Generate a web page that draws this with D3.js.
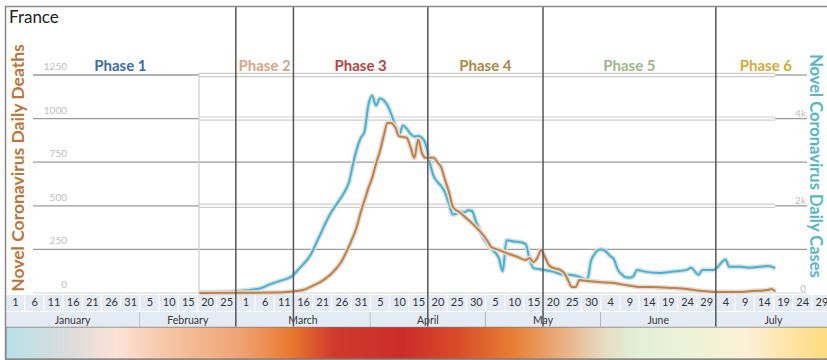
<!DOCTYPE html>
<html><head><meta charset="utf-8">
<script src="https://cdn.jsdelivr.net/npm/d3@7"></script>
<style>body{margin:0;background:#fff}svg{display:block}</style>
</head><body><svg id="c" width="827" height="360"></svg>
<script>
// ---------- data ----------
const chartTitle = "France";
const leftTitle = "Novel Coronavirus Daily Deaths";
const rightTitle = "Novel Coronavirus Daily Cases";
const deathTicks = [0, 250, 500, 750, 1000, 1250];
const caseTicks = [0, 2000, 4000];
const caseTickLabels = ["0", "2k", "4k"];
const months = ["January", "February", "March", "April", "May", "June", "July"];
const dayTicks = ["01-01","01-06","01-11","01-16","01-21","01-26","01-31",
  "02-05","02-10","02-15","02-20","02-25",
  "03-01","03-06","03-11","03-16","03-21","03-26","03-31",
  "04-05","04-10","04-15","04-20","04-25","04-30",
  "05-05","05-10","05-15","05-20","05-25","05-30",
  "06-04","06-09","06-14","06-19","06-24","06-29",
  "07-04","07-09","07-14","07-19","07-24","07-29"];
const phaseNames = ["Phase 1", "Phase 2", "Phase 3", "Phase 4", "Phase 5", "Phase 6"];
const phaseColors = ["#3a6ea5", "#d9a587", "#b9433f", "#a88a45", "#9db58d", "#d4a93c"];
const phaseStarts = ["02-28", "03-14", "04-18", "05-18", "07-02"];

const caseDates = ["02-18","02-22","02-26","02-29","03-03","03-05","03-07","03-10","03-13","03-15",
  "03-18","03-20","03-23","03-26","03-27","03-28","03-29","03-30","03-31","04-01",
  "04-02","04-03","04-04","04-05","04-06","04-07","04-08","04-09","04-10","04-11",
  "04-12","04-13","04-14","04-15","04-16","04-17","04-18","04-19","04-20","04-21",
  "04-22","04-23","04-24","04-25","04-26","04-27","04-28","04-29","04-30","05-01",
  "05-02","05-03","05-04","05-05","05-06","05-07","05-08","05-10","05-12","05-13",
  "05-14","05-15","05-17","05-20","05-23","05-25","05-27","05-29","05-30","05-31",
  "06-01","06-02","06-03","06-04","06-05","06-06","06-07","06-08","06-09","06-10",
  "06-11","06-13","06-17","06-20","06-24","06-25","06-27","06-28","07-01","07-02",
  "07-04","07-05","07-08","07-10","07-13","07-15","07-17"];
const caseValues = [10,15,30,50,80,110,185,277,380,560,
  880,1250,1800,2200,2350,2550,2950,3300,3550,3700,
  4300,4530,4300,4460,4420,4300,4100,3850,3620,3840,
  3770,3650,3590,3600,3560,3400,3000,2680,2550,2450,
  2300,2050,1800,1820,1870,1850,1900,1880,1650,1450,
  1250,1130,1020,930,800,500,1210,1180,1160,1120,
  780,570,540,490,420,415,370,300,740,900,
  990,1000,940,850,770,530,430,360,350,380,
  530,490,460,490,530,580,420,530,530,600,
  770,600,600,580,600,620,570];

const deathDates = ["02-18","03-01","03-11","03-13","03-16","03-19","03-21","03-23","03-26","03-28",
  "03-30","03-31","04-01","04-02","04-03","04-04","04-05","04-06","04-07","04-08",
  "04-09","04-10","04-11","04-12","04-13","04-14","04-15","04-16","04-17","04-19",
  "04-20","04-21","04-22","04-23","04-24","04-26","04-28","04-29","05-01","05-03",
  "05-04","05-06","05-08","05-11","05-13","05-14","05-15","05-16","05-17","05-18",
  "05-19","05-20","05-22","05-23","05-24","05-25","05-26","05-27","05-28","06-01",
  "06-05","06-08","06-12","06-15","06-20","06-24","06-28","07-02","07-07","07-11",
  "07-15","07-16","07-17"];
const deathValues = [0,1,4,8,17,46,70,103,180,270,
  380,460,530,600,660,740,810,900,975,975,
  950,900,895,890,837,775,880,800,775,775,
  750,720,648,580,495,459,420,400,355,300,
  264,247,229,206,189,201,178,201,247,206,
  161,145,132,115,75,34,34,75,72,63,
  57,46,34,34,29,23,11,6,6,11,
  17,23,8];

const gradientStops = [[0,"#b8e0e8"],[0.077,"#dcdcdc"],[0.134,"#fce3d8"],[0.19,"#f6c8a8"],
  [0.287,"#f0a070"],[0.344,"#e8782f"],[0.395,"#cf3a2c"],[0.478,"#cc2c2a"],[0.542,"#d84a28"],
  [0.612,"#e88035"],[0.676,"#e9b48a"],[0.72,"#e6dcc0"],[0.759,"#e3efd8"],[0.83,"#eef3d8"],
  [0.893,"#fdf0d6"],[0.957,"#fde29a"],[1,"#fdd878"]];

// ---------- setup ----------
const parse = s => d3.utcParse("%Y-%m-%d")("2020-" + s);
const svg = d3.select("#c");
const W = 827, H = 360;
const dayW = 3.84;
const x = d3.scaleUtc().domain([parse("01-01"), parse("07-30")]).range([13.1, 13.1 + 211 * dayW]);
const xMid = d => x(d) + dayW / 2;
const y0 = 293, yTop = 75;
const yD = d3.scaleLinear().domain([0, 1250]).range([y0, yTop]);
const yC = d3.scaleLinear().domain([0, 5000]).range([y0, yTop]);
const gridL = 33, gridR = 807, innerL = 199, innerR = 775;
const font = "Lato, 'Open Sans', sans-serif";

// background
svg.append("rect").attr("width", W).attr("height", H).attr("fill", "#fff");

// gradient
const defs = svg.append("defs");
const lg = defs.append("linearGradient").attr("id", "g").attr("x1", 0).attr("x2", 1).attr("y1", 0).attr("y2", 0);
gradientStops.forEach(s => lg.append("stop").attr("offset", s[0]).attr("stop-color", s[1]));
svg.append("rect").attr("x", 6).attr("y", 327).attr("width", 830).attr("height", 32)
  .attr("fill", "url(#g)").attr("stroke", "#777").attr("stroke-width", 1);

// x axis cells
const tickDates = dayTicks.map(parse);
const cellX0 = d => xMid(d) - 2.5 * dayW;
const cells = svg.append("g");
tickDates.forEach(d => {
  cells.append("rect").attr("x", cellX0(d) + 0.5).attr("y", 295).attr("width", 5 * dayW - 1).attr("height", 16)
    .attr("fill", "#e5ebf5");
});
months.forEach((m, i) => {
  const ds = tickDates.filter(d => d.getUTCMonth() === i);
  const a = cellX0(ds[0]), b = cellX0(ds[ds.length - 1]) + 5 * dayW;
  cells.append("rect").attr("x", a + 0.5).attr("y", 312).attr("width", b - a - 1).attr("height", 14.5)
    .attr("fill", "#e5ebf5");
  cells.append("line").attr("x1", b).attr("x2", b).attr("y1", 312).attr("y2", 326.5)
    .attr("stroke", "#a9adb5").attr("stroke-width", 1);
  cells.append("text").attr("x", (a + b) / 2).attr("y", 323.5).attr("text-anchor", "middle")
    .attr("font-family", font).attr("font-size", 10.5).attr("fill", "#333").text(m);
});
const xAxis = d3.axisBottom(x).tickValues(tickDates.map(d => d3.utcHour.offset(d, 12)))
  .tickFormat(d3.utcFormat("%-d")).tickSize(0).tickPadding(0);
const xa = svg.append("g").attr("transform", "translate(0,298)").call(xAxis);
xa.select(".domain").remove();
xa.selectAll("text").attr("font-family", font).attr("font-size", 11).attr("fill", "#333").attr("dy", "0.71em");

// gridlines
const gridG = svg.append("g");
deathTicks.forEach(v => {
  const yy = yD(v);
  if (v === 0) {
    gridG.append("line").attr("x1", gridL).attr("x2", gridR).attr("y1", yy).attr("y2", yy)
      .attr("stroke", "#d0d0d0").attr("stroke-width", 1.2);
  } else if (v === 1250 || v === 1000 || v === 500) {
    gridG.append("line").attr("x1", gridL).attr("x2", innerL).attr("y1", yy).attr("y2", yy)
      .attr("stroke", "#9a9a9a").attr("stroke-width", 1.3);
    gridG.append("line").attr("x1", innerR).attr("x2", gridR).attr("y1", yy).attr("y2", yy)
      .attr("stroke", "#9a9a9a").attr("stroke-width", 1.3);
    [-1.6, 1.6].forEach(o => gridG.append("line").attr("x1", innerL).attr("x2", innerR)
      .attr("y1", yy + o).attr("y2", yy + o).attr("stroke", "#cdcdcd").attr("stroke-width", 1.2));
  } else {
    gridG.append("line").attr("x1", gridL).attr("x2", gridR).attr("y1", yy).attr("y2", yy)
      .attr("stroke", "#9a9a9a").attr("stroke-width", 1.3);
  }
});
gridG.append("line").attr("x1", innerL).attr("x2", innerL).attr("y1", yTop - 2).attr("y2", y0)
  .attr("stroke", "#cfcfcf").attr("stroke-width", 1.2);

// left axis labels
const la = svg.append("g").attr("transform", "translate(67,0)")
  .call(d3.axisLeft(yD).tickValues(deathTicks).tickSize(0).tickPadding(0).tickFormat(d3.format("d")));
la.select(".domain").remove();
la.selectAll("text").attr("font-family", font).attr("font-size", 10).attr("fill", "#bdbdbd")
  .attr("dy", "-0.55em");

// right axis labels
const ra = svg.append("g").attr("transform", "translate(806,0)")
  .call(d3.axisLeft(yC).tickValues(caseTicks).tickSize(0).tickPadding(0)
    .tickFormat((d, i) => caseTickLabels[i]));
ra.select(".domain").remove();
ra.selectAll("text").attr("font-family", font).attr("font-size", 10).attr("fill", "#bdbdbd")
  .attr("dy", "-0.2em");

// lines
const cases = caseDates.map((d, i) => ({ d: parse(d), v: caseValues[i] }));
const deaths = deathDates.map((d, i) => ({ d: parse(d), v: deathValues[i] }));
const lineC = d3.line().x(p => xMid(p.d)).y(p => yC(p.v)).curve(d3.curveMonotoneX);
const lineD = d3.line().x(p => xMid(p.d)).y(p => yD(p.v)).curve(d3.curveMonotoneX);
[[cases, lineC, "#3fb5d3"], [deaths, lineD, "#c4803f"]].forEach(([data, gen, col]) => {
  svg.append("path").datum(data).attr("d", gen).attr("fill", "none")
    .attr("stroke", "#dedede").attr("stroke-width", 5).attr("stroke-linejoin", "round");
  svg.append("path").datum(data).attr("d", gen).attr("fill", "none")
    .attr("stroke", col).attr("stroke-width", 2).attr("stroke-linejoin", "round");
});

// phase lines and labels
const bounds = [5].concat(phaseStarts.map(s => x(parse(s)))).concat([816]);
phaseStarts.forEach(s => {
  const xx = x(parse(s));
  svg.append("line").attr("x1", xx).attr("x2", xx).attr("y1", 6).attr("y2", 326.5)
    .attr("stroke", "#555").attr("stroke-width", 1.5);
});
phaseNames.forEach((n, i) => {
  svg.append("text").attr("x", (bounds[i] + bounds[i + 1]) / 2).attr("y", 71)
    .attr("text-anchor", "middle").attr("font-family", font).attr("font-weight", "bold")
    .attr("font-size", 15).attr("fill", phaseColors[i]).text(n);
});

// titles
svg.append("text").attr("x", 9).attr("y", 23).attr("font-family", font).attr("font-size", 17)
  .attr("fill", "#222").text(chartTitle);
svg.append("text").attr("transform", "translate(24,168) rotate(-90)").attr("text-anchor", "middle")
  .attr("font-family", font).attr("font-weight", "bold").attr("font-size", 17.5)
  .attr("fill", "#b8773d").text(leftTitle);
svg.append("text").attr("transform", "translate(810,166) rotate(90)").attr("text-anchor", "middle")
  .attr("font-family", font).attr("font-weight", "bold").attr("font-size", 16.5)
  .attr("fill", "#5ab5c8").text(rightTitle);

// frame
svg.append("rect").attr("x", 5.5).attr("y", 6.5).attr("width", 830).attr("height", 353)
  .attr("fill", "none").attr("stroke", "#8a8a8a").attr("stroke-width", 1.5);
</script></body></html>
